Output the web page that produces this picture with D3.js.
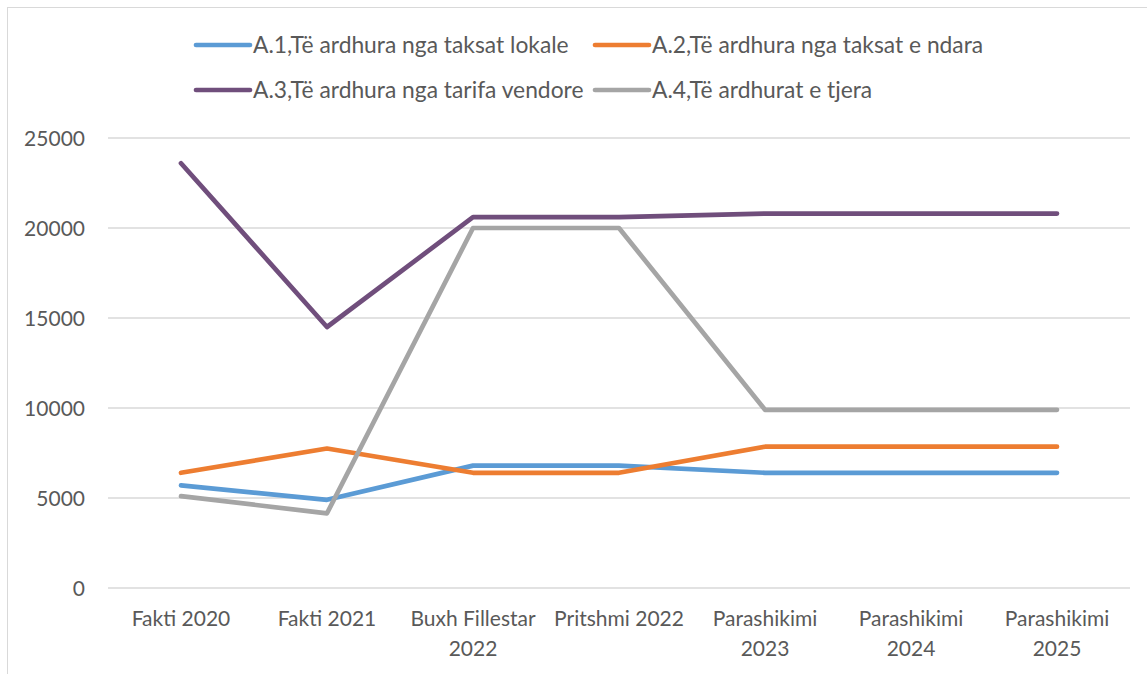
<!DOCTYPE html>
<html>
<head>
<meta charset="utf-8">
<script src="https://cdn.jsdelivr.net/npm/d3@7"></script>
<style>
  body { margin: 0; background: #ffffff; }
  text { font-family: Lato, "Open Sans", sans-serif; fill: #595959; }
</style>
</head>
<body>
<div id="chart"></div>
<script>
// Categories (x axis) and how the labels wrap
const categories = ["Fakti 2020", "Fakti 2021", "Buxh Fillestar 2022", "Pritshmi 2022",
  "Parashikimi 2023", "Parashikimi 2024", "Parashikimi 2025"];
const categoryLines = [["Fakti 2020"], ["Fakti 2021"], ["Buxh Fillestar", "2022"], ["Pritshmi 2022"],
  ["Parashikimi", "2023"], ["Parashikimi", "2024"], ["Parashikimi", "2025"]];

// Series
const seriesNames = ["A.1,Të ardhura nga taksat lokale", "A.2,Të ardhura nga taksat e ndara",
  "A.3,Të ardhura nga tarifa vendore", "A.4,Të ardhurat e tjera"];
const taksatLokale = [5700, 4900, 6800, 6800, 6400, 6400, 6400];
const taksatNdara = [6400, 7750, 6400, 6400, 7850, 7850, 7850];
const tarifaVendore = [23600, 14500, 20600, 20600, 20800, 20800, 20800];
const teTjera = [5100, 4150, 20000, 20000, 9900, 9900, 9900];
const colors = ["#5b9bd5", "#ed7d31", "#704e7c", "#a5a5a5"];

const yTicks = [0, 5000, 10000, 15000, 20000, 25000];

const W = 1147, H = 674;
const plot = { left: 108, right: 1130, top: 138, bottom: 588 };

const svg = d3.select("#chart")
    .append("svg")
    .attr("width", W)
    .attr("height", H);

// Chart area border (only top and left are visible in the frame)
svg.append("rect")
    .attr("x", 7.5)
    .attr("y", 7.5)
    .attr("width", 1200)
    .attr("height", 700)
    .attr("fill", "none")
    .attr("stroke", "#d9d9d9")
    .attr("stroke-width", 1);

const x = d3.scalePoint()
    .domain(categories)
    .range([plot.left, plot.right])
    .padding(0.5);

const y = d3.scaleLinear()
    .domain([0, 25000])
    .range([plot.bottom, plot.top]);

// Gridlines
svg.append("g")
    .selectAll("line")
    .data(yTicks)
    .join("line")
    .attr("x1", plot.left)
    .attr("x2", plot.right)
    .attr("y1", d => y(d))
    .attr("y2", d => y(d))
    .attr("stroke", "#d9d9d9")
    .attr("stroke-width", 1.3);

// Y axis labels
svg.append("g")
    .selectAll("text")
    .data(yTicks)
    .join("text")
    .attr("x", 85)
    .attr("y", d => y(d))
    .attr("dy", "0.36em")
    .attr("text-anchor", "end")
    .style("font-size", "21px")
    .text(d => d);

// X axis labels
const xLabels = svg.append("g")
    .selectAll("text")
    .data(categories)
    .join("text")
    .attr("x", d => x(d))
    .attr("y", 618)
    .attr("text-anchor", "middle")
    .style("font-size", "21px");

xLabels.selectAll("tspan")
    .data((d, i) => categoryLines[i])
    .join("tspan")
    .attr("x", function () { return d3.select(this.parentNode).attr("x"); })
    .attr("dy", (d, i) => i === 0 ? "0.36em" : "30px")
    .text(d => d);

// Lines
const allSeries = [taksatLokale, taksatNdara, tarifaVendore, teTjera];
const line = d3.line()
    .x((d, i) => x(categories[i]))
    .y(d => y(d));

svg.append("g")
    .selectAll("path")
    .data(allSeries)
    .join("path")
    .attr("fill", "none")
    .attr("stroke", (d, i) => colors[i])
    .attr("stroke-width", 4.7)
    .attr("stroke-linecap", "round")
    .attr("stroke-linejoin", "round")
    .attr("d", line);

// Legend, two columns by two rows
const legendCols = [196, 595];
const legendRows = [45, 90];
const legend = svg.append("g")
    .selectAll("g")
    .data(seriesNames)
    .join("g")
    .attr("transform", (d, i) => `translate(${legendCols[i % 2]},${legendRows[Math.floor(i / 2)]})`);

legend.append("line")
    .attr("x1", 0)
    .attr("x2", 54)
    .attr("stroke", (d, i) => colors[i])
    .attr("stroke-width", 4.7)
    .attr("stroke-linecap", "round");

legend.append("text")
    .attr("x", 57)
    .attr("dy", "0.36em")
    .style("font-size", "22.8px")
    .text(d => d);
</script>
</body>
</html>
